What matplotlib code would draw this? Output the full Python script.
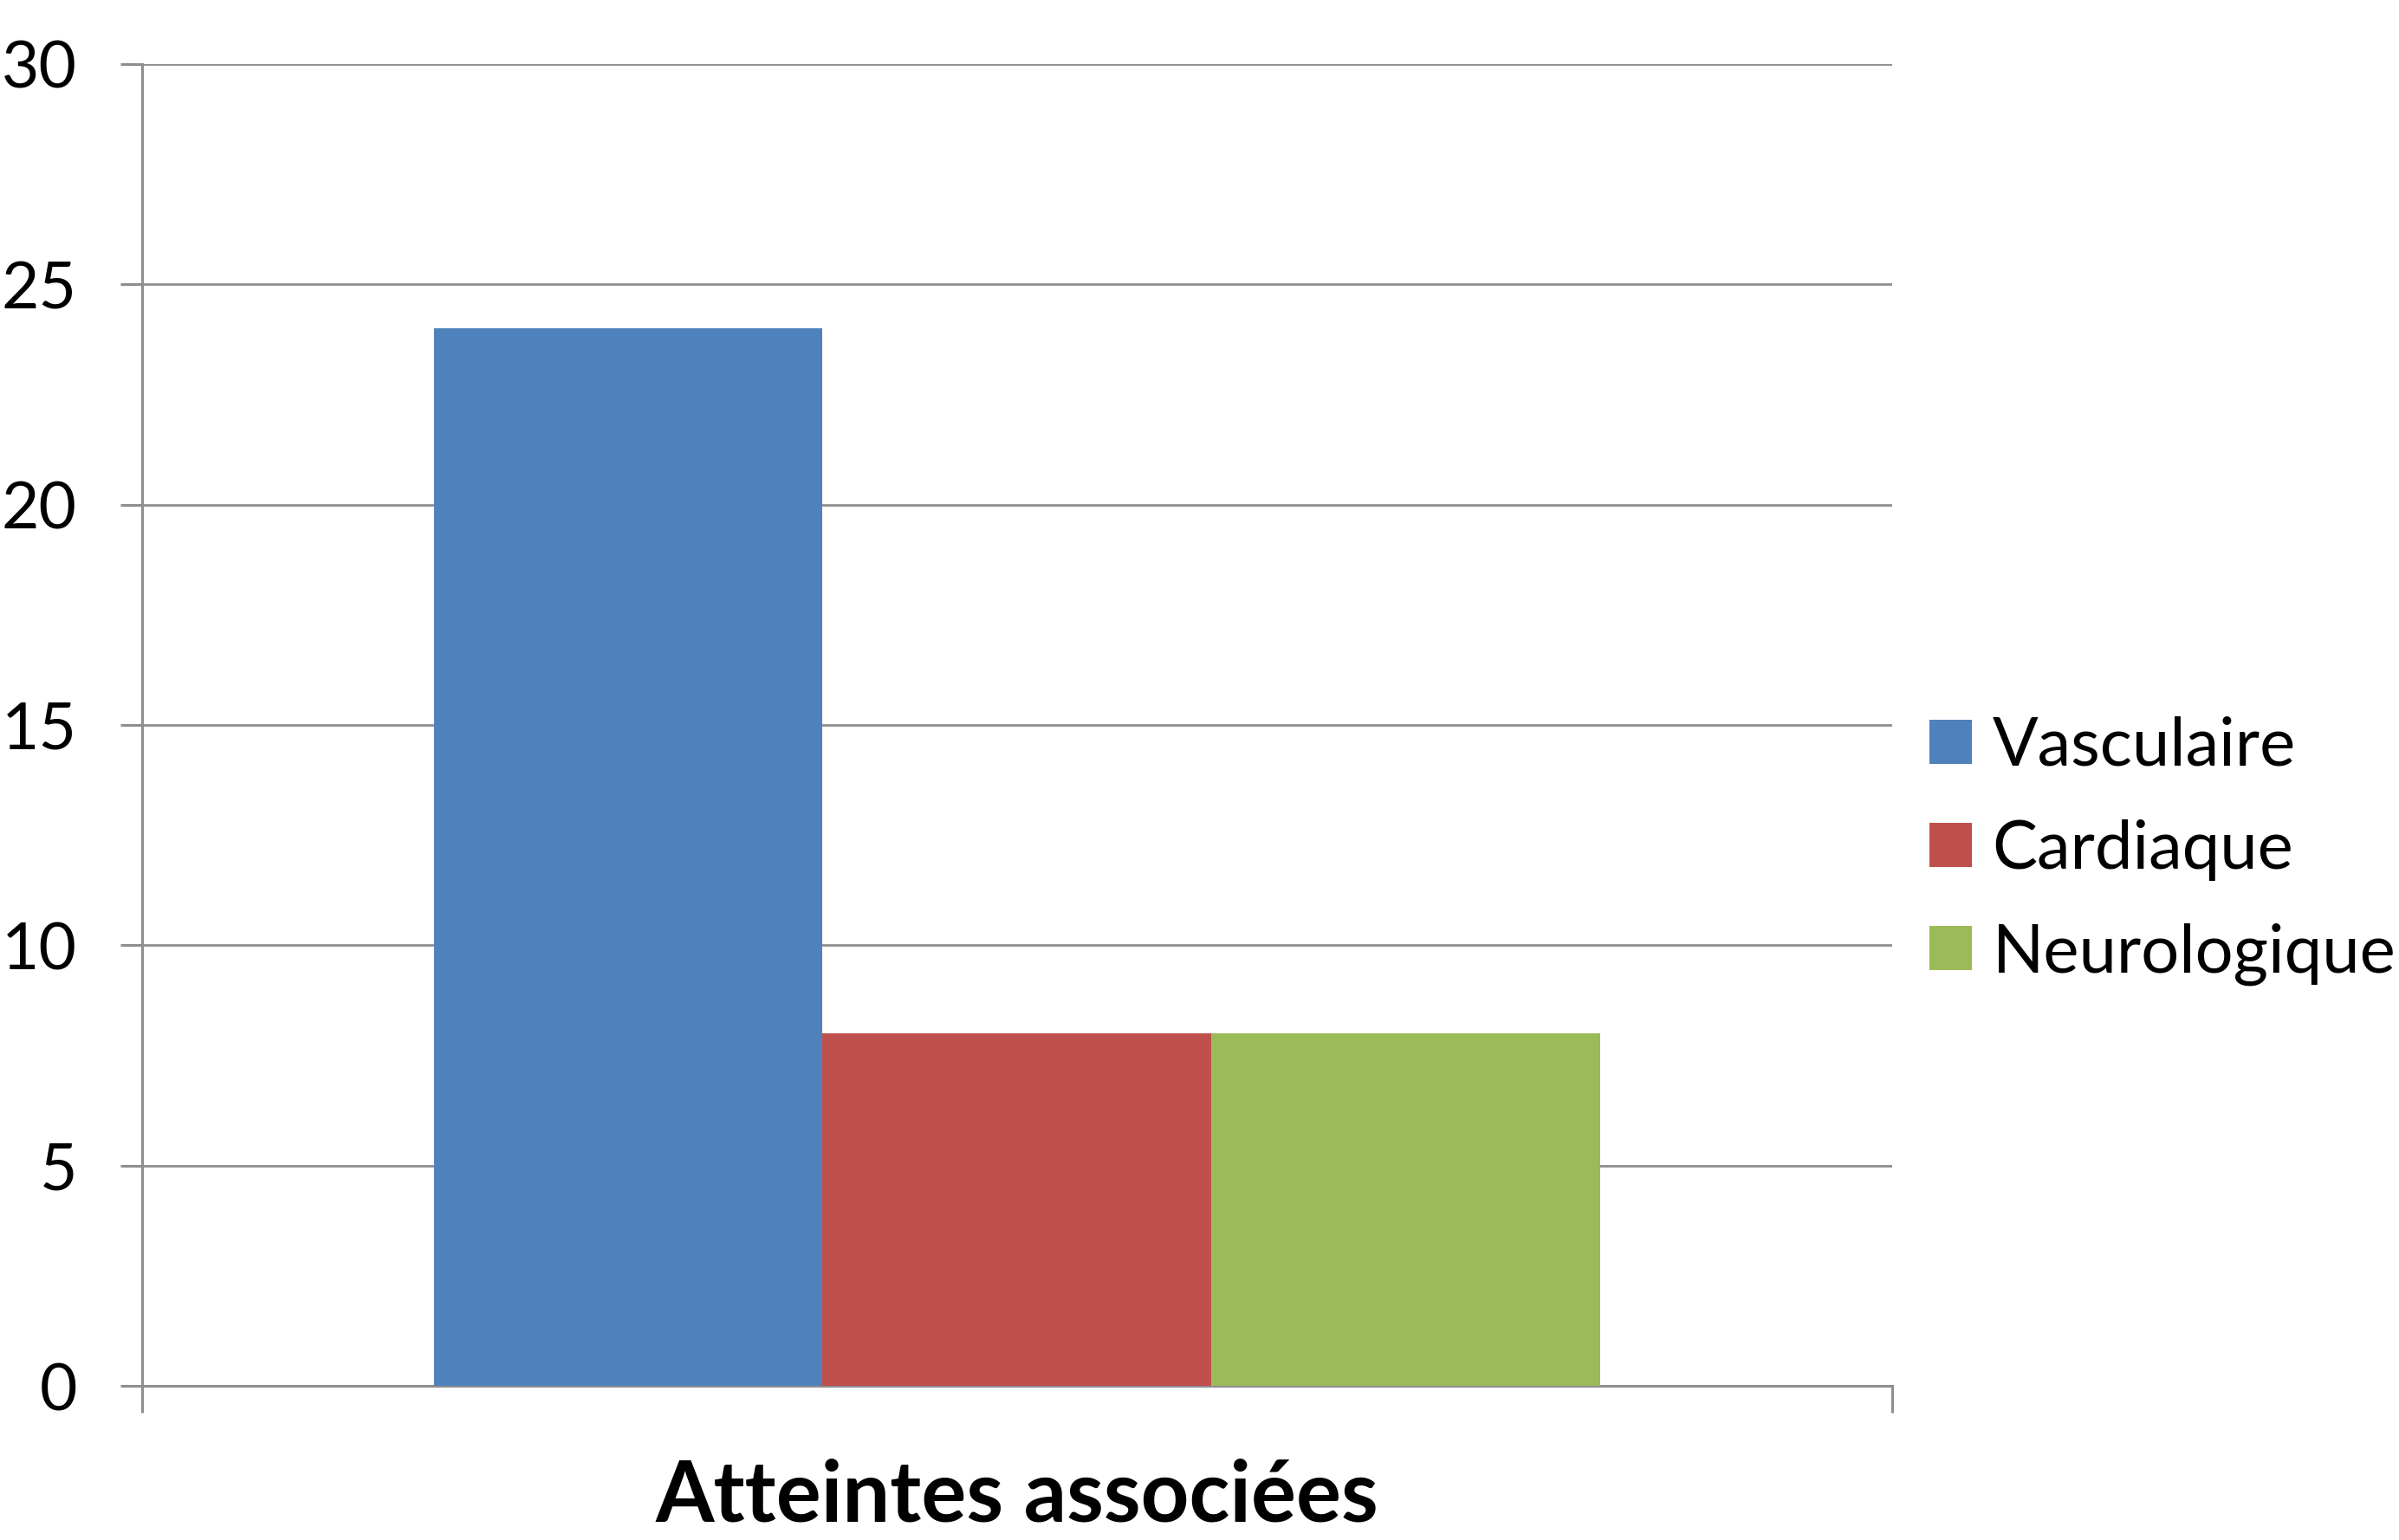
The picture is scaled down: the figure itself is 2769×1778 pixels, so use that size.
import matplotlib.pyplot as plt

category = 'Atteintes associées'
series = ['Vasculaire', 'Cardiaque', 'Neurologique']
values = [24, 8, 8]
colors = ['#4F81BD', '#C0504D', '#9BBB59']
yticks = [0, 5, 10, 15, 20, 25, 30]

plt.rcParams['font.family'] = ['Lato', 'DejaVu Sans']
grey = '#8e8e8e'

fig = plt.figure(figsize=(27.69, 17.78), dpi=100)
ax = fig.add_axes([0.0592, 0.1001, 0.7295, 0.8583])

bar_w = 0.2222
for i, (name, v, c) in enumerate(zip(series, values, colors)):
    ax.bar(0.5 + (i - 1) * bar_w, v, width=bar_w, color=c, label=name, zorder=3)

ax.set_xlim(0, 1)
ax.set_ylim(0, 30)
ax.set_yticks(yticks)
ax.grid(axis='y', color=grey, linewidth=2, zorder=0)

# category label under the axis, edge ticks at 0 and 1
ax.set_xticks([0.5])
ax.set_xticklabels([category], fontsize=70, fontweight='bold')
ax.set_xticks([0, 1], minor=True)
ax.tick_params(axis='x', which='major', length=0, pad=60)
ax.tick_params(axis='x', which='minor', length=22, width=2.2, color=grey, direction='out')
ax.tick_params(axis='y', length=18, width=2.2, color=grey, labelsize=54, pad=36)

for s in ['top', 'right']:
    ax.spines[s].set_visible(False)
for s in ['left', 'bottom']:
    ax.spines[s].set_color(grey)
    ax.spines[s].set_linewidth(2.2)

fig.legend(loc='center left', bbox_to_anchor=(0.8043, 0.4476), frameon=False,
           fontsize=56, handlelength=0.63, handleheight=0.63, handletextpad=0.3,
           labelspacing=0.62, borderpad=0, borderaxespad=0)

plt.savefig('out.png')
